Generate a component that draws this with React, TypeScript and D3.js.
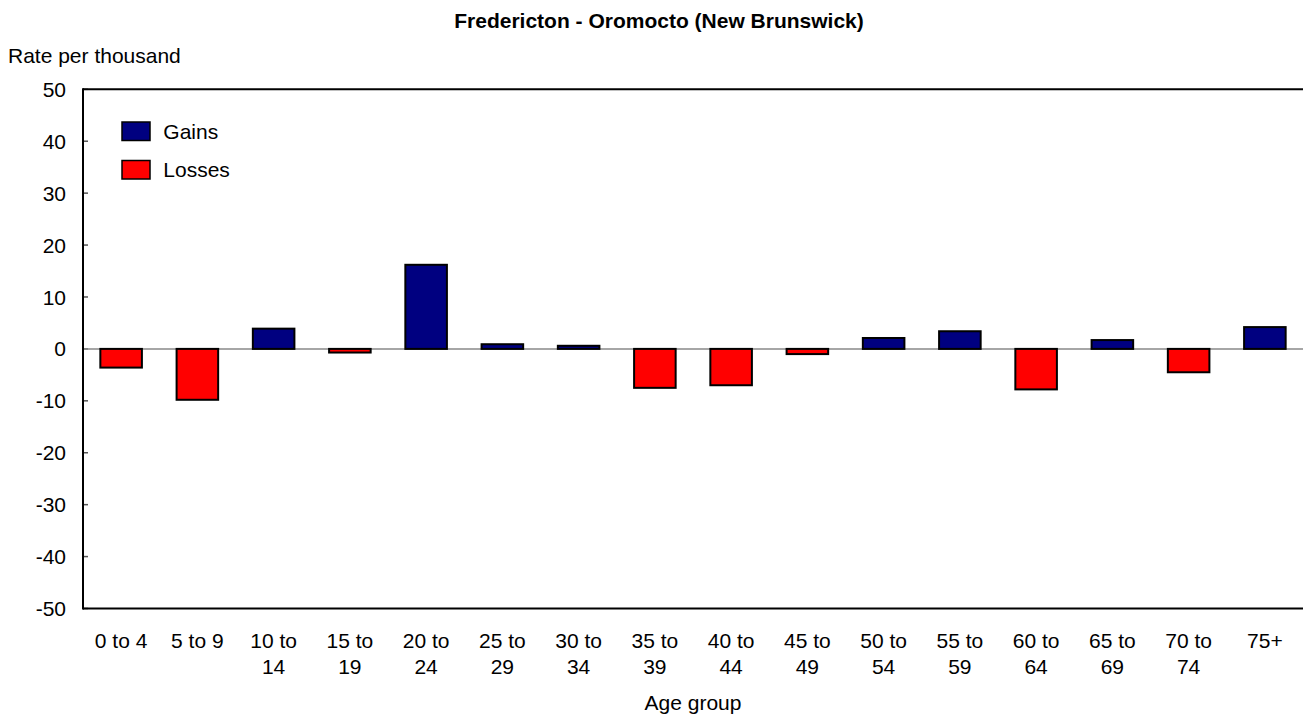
import React from "react";
import * as d3 from "d3";

const title = "Fredericton - Oromocto (New Brunswick)";
const yAxisTitle = "Rate per thousand";
const xAxisTitle = "Age group";
const categories = [
  ["0 to 4"], ["5 to 9"], ["10 to", "14"], ["15 to", "19"], ["20 to", "24"],
  ["25 to", "29"], ["30 to", "34"], ["35 to", "39"], ["40 to", "44"], ["45 to", "49"],
  ["50 to", "54"], ["55 to", "59"], ["60 to", "64"], ["65 to", "69"], ["70 to", "74"], ["75+"],
];
const values = [-3.6, -9.8, 3.9, -0.7, 16.2, 0.9, 0.6, -7.5, -7.0, -1.0, 2.1, 3.4, -7.8, 1.7, -4.5, 4.2];
const yTicks = [50, 40, 30, 20, 10, 0, -10, -20, -30, -40, -50];
const legendItems = [
  { label: "Gains", color: "#000080" },
  { label: "Losses", color: "#ff0000" },
];

const W = 1303;
const H = 717;
const left = 83;
const right = 1303;
const top = 89.3;
const bottom = 608.5;
const FONT = "'Liberation Sans', Arial, Helvetica, sans-serif";

export default function App() {
  const keys = categories.map((c) => c.join(" "));
  const x = d3.scaleBand<string>().domain(keys).range([left, right]).padding(0);
  const y = d3.scaleLinear().domain([-50, 50]).range([bottom, top]);
  const bw = x.bandwidth() * 0.545;
  const y0 = y(0);

  return (
    <svg width={W} height={H} style={{ position: "absolute", left: 0, top: 0, background: "#fff" }}
      fontFamily={FONT}>
      <text x={659} y={28.3} textAnchor="middle" fontWeight="bold" fontSize={21}>{title}</text>
      <text x={8} y={63.3} fontSize={21}>{yAxisTitle}</text>

      {/* y ticks */}
      {yTicks.map((t) => (
        <g key={t}>
          <line x1={left} x2={left + 5} y1={y(t)} y2={y(t)} stroke="#555" strokeWidth={1.5} />
          <text x={66} y={y(t)} dy="0.36em" textAnchor="end" fontSize={21}>{t}</text>
        </g>
      ))}

      {/* zero line */}
      <line x1={left} x2={right} y1={y0} y2={y0} stroke="#888" strokeWidth={1.5} />

      {/* bars */}
      {values.map((v, i) => {
        const cx = (x(keys[i]) as number) + x.bandwidth() / 2;
        const yTop = Math.min(y(v), y0);
        const h = Math.abs(y(v) - y0);
        return (
          <rect key={i} x={cx - bw / 2} y={yTop} width={bw} height={h}
            fill={v >= 0 ? legendItems[0].color : legendItems[1].color}
            stroke="#000" strokeWidth={2} />
        );
      })}

      {/* frame */}
      <line x1={left} x2={right} y1={top} y2={top} stroke="#000" strokeWidth={2} />
      <line x1={left} x2={right} y1={bottom} y2={bottom} stroke="#000" strokeWidth={2} />
      <line x1={left} x2={left} y1={top - 1} y2={bottom + 1} stroke="#000" strokeWidth={2} />

      {/* x labels */}
      {categories.map((lines, i) => {
        const cx = (x(keys[i]) as number) + x.bandwidth() / 2;
        return (
          <text key={i} textAnchor="middle" fontSize={21}>
            {lines.map((l, j) => (
              <tspan key={j} x={cx} y={647.7 + j * 26.6}>{l}</tspan>
            ))}
          </text>
        );
      })}
      <text x={(left + right) / 2} y={710} textAnchor="middle" fontSize={21}>{xAxisTitle}</text>

      {/* legend */}
      {legendItems.map((it, i) => (
        <g key={it.label}>
          <rect x={122} y={122 + i * 38.5} width={28} height={18.5} fill={it.color} stroke="#000" strokeWidth={1.5} />
          <text x={163.3} y={139 + i * 38} fontSize={21}>{it.label}</text>
        </g>
      ))}
    </svg>
  );
}
